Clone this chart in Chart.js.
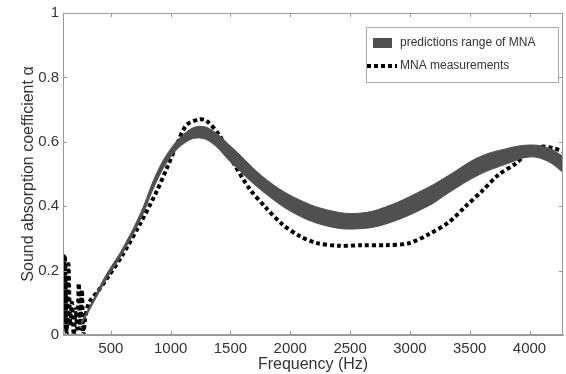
<!DOCTYPE html>
<html>
<head>
<meta charset="utf-8">
<script src="https://cdn.jsdelivr.net/npm/chart.js@4"></script>
<style>
  html, body { margin: 0; padding: 0; background: #fff; }
  #wrap { width: 566px; height: 374px; }
</style>
</head>
<body>
<div id="wrap"><canvas id="chart" width="566" height="374"></canvas></div>
<script>
// predicted range (band) of the MNA model
const bandFreq = [250, 325, 450, 600, 750, 880, 1000, 1130, 1240, 1350, 1520, 1800, 2075, 2350, 2575, 2800, 3150, 3325, 3575, 3800, 4000, 4150, 4280];
const bandLower = [0.03, 0.08, 0.165, 0.255, 0.36, 0.475, 0.553, 0.6, 0.612, 0.595, 0.53, 0.437, 0.37, 0.335, 0.33, 0.345, 0.40, 0.442, 0.497, 0.53, 0.553, 0.54, 0.505];
const bandUpper = [0.04, 0.09, 0.18, 0.27, 0.38, 0.5, 0.578, 0.63, 0.648, 0.635, 0.58, 0.483, 0.42, 0.385, 0.378, 0.398, 0.458, 0.496, 0.552, 0.578, 0.59, 0.582, 0.555];

// measured absorption
const measFreq = [100, 115, 130, 145, 160, 175, 190, 205, 220, 232, 245, 258, 270, 285, 300, 325, 400, 467, 600, 742, 883, 967, 1050, 1133, 1242, 1300, 1408, 1517, 1658, 1800, 1933, 2075, 2217, 2408, 2600, 2800, 2992, 3158, 3325, 3467, 3600, 3742, 3883, 3992, 4100, 4200, 4280];
const measValues = [0.02, 0.25, 0.0, 0.22, 0.03, 0.10, 0.0, 0.08, 0.02, 0.16, 0.02, 0.14, 0.0, 0.05, 0.08, 0.105, 0.14, 0.175, 0.25, 0.344, 0.446, 0.517, 0.59, 0.652, 0.67, 0.665, 0.62, 0.54, 0.455, 0.394, 0.344, 0.308, 0.286, 0.277, 0.279, 0.279, 0.285, 0.313, 0.35, 0.40, 0.446, 0.498, 0.532, 0.569, 0.585, 0.58, 0.57];

const xTicks = [500, 1000, 1500, 2000, 2500, 3000, 3500, 4000];
const yTicks = [0, 0.2, 0.4, 0.6, 0.8, 1];

const bandColor = 'rgb(80,80,80)';
const textColor = '#333';
const axisColor = '#999';
const fontFamily = '"Liberation Sans", Arial, sans-serif';

const toPoints = (xs, ys) => xs.map((x, i) => ({ x, y: ys[i] }));

// MATLAB style box with inward ticks, plus the boxed legend
const boxPlugin = {
  id: 'box',
  afterDraw(chart) {
    const { ctx, chartArea: a, scales } = chart;
    ctx.save();
    ctx.strokeStyle = axisColor;
    ctx.lineWidth = 1;
    ctx.strokeRect(a.left + 0.5, a.top + 0.5, a.right - a.left - 1, a.bottom - a.top - 1);
    ctx.beginPath();
    xTicks.forEach(v => {
      const x = Math.round(scales.x.getPixelForValue(v)) + 0.5;
      ctx.moveTo(x, a.bottom); ctx.lineTo(x, a.bottom - 4);
      ctx.moveTo(x, a.top); ctx.lineTo(x, a.top + 4);
    });
    yTicks.forEach(v => {
      const y = Math.round(scales.y.getPixelForValue(v)) + 0.5;
      ctx.moveTo(a.left, y); ctx.lineTo(a.left + 4, y);
      ctx.moveTo(a.right, y); ctx.lineTo(a.right - 4, y);
    });
    ctx.stroke();

    // legend
    const lx = 366, ly = 27, lw = 192, lh = 55;
    ctx.fillStyle = '#fff';
    ctx.fillRect(lx, ly, lw, lh);
    ctx.strokeStyle = '#aaa';
    ctx.strokeRect(lx + 0.5, ly + 0.5, lw, lh);
    ctx.fillStyle = bandColor;
    ctx.fillRect(lx + 7, ly + 11, 19, 10);
    ctx.strokeStyle = '#000';
    ctx.lineWidth = 4;
    ctx.setLineDash([4, 3]);
    ctx.beginPath();
    ctx.moveTo(lx + 1, ly + 39);
    ctx.lineTo(lx + 31, ly + 39);
    ctx.stroke();
    ctx.setLineDash([]);
    ctx.fillStyle = textColor;
    ctx.font = '12px ' + fontFamily;
    ctx.textBaseline = 'middle';
    ctx.fillText('predictions range of MNA', lx + 34, ly + 16);
    ctx.fillText('MNA measurements', lx + 34, ly + 39);
    ctx.restore();
  }
};

new Chart(document.getElementById('chart'), {
  type: 'line',
  data: {
    datasets: [
      {
        label: 'upper',
        data: toPoints(bandFreq, bandUpper),
        borderColor: bandColor,
        borderWidth: 1,
        pointRadius: 0,
        fill: false,
        tension: 0.4
      },
      {
        label: 'predictions range of MNA',
        data: toPoints(bandFreq, bandLower),
        borderColor: bandColor,
        backgroundColor: bandColor,
        borderWidth: 1,
        pointRadius: 0,
        fill: '-1',
        tension: 0.4
      },
      {
        label: 'MNA measurements',
        data: toPoints(measFreq, measValues),
        borderColor: '#000',
        borderWidth: 4,
        borderDash: [4, 3],
        borderCapStyle: 'butt',
        pointRadius: 0,
        fill: false,
        tension: 0.3
      }
    ]
  },
  options: {
    responsive: false,
    animation: false,
    layout: { padding: { top: 10, right: 3, left: 0, bottom: 0 } },
    plugins: {
      legend: { display: false },
      tooltip: { enabled: false }
    },
    scales: {
      x: {
        type: 'linear',
        min: 100,
        max: 4280,
        afterBuildTicks: s => { s.ticks = xTicks.map(v => ({ value: v })); },
        afterFit: s => { s.height = 39; },
        grid: { display: false, drawTicks: false },
        border: { display: true, color: axisColor },
        ticks: {
          color: textColor,
          padding: 5,
          maxRotation: 0,
          callback: v => String(v),
          font: { family: fontFamily, size: 15 }
        },
        title: {
          display: true,
          text: 'Frequency (Hz)',
          color: textColor,
          padding: { top: 0, bottom: 0 },
          font: { family: fontFamily, size: 16 }
        }
      },
      y: {
        min: 0,
        max: 1,
        afterBuildTicks: s => { s.ticks = yTicks.map(v => ({ value: v })); },
        afterFit: s => { s.width = 63; },
        grid: { display: false, drawTicks: false },
        border: { display: true, color: axisColor },
        ticks: {
          color: textColor,
          padding: 4,
          callback: v => String(v),
          font: { family: fontFamily, size: 15 }
        },
        title: {
          display: true,
          text: 'Sound absorption coefficient α',
          color: textColor,
          padding: { top: 19, bottom: 0 },
          font: { family: fontFamily, size: 16 }
        }
      }
    }
  },
  plugins: [boxPlugin]
});
</script>
</body>
</html>
